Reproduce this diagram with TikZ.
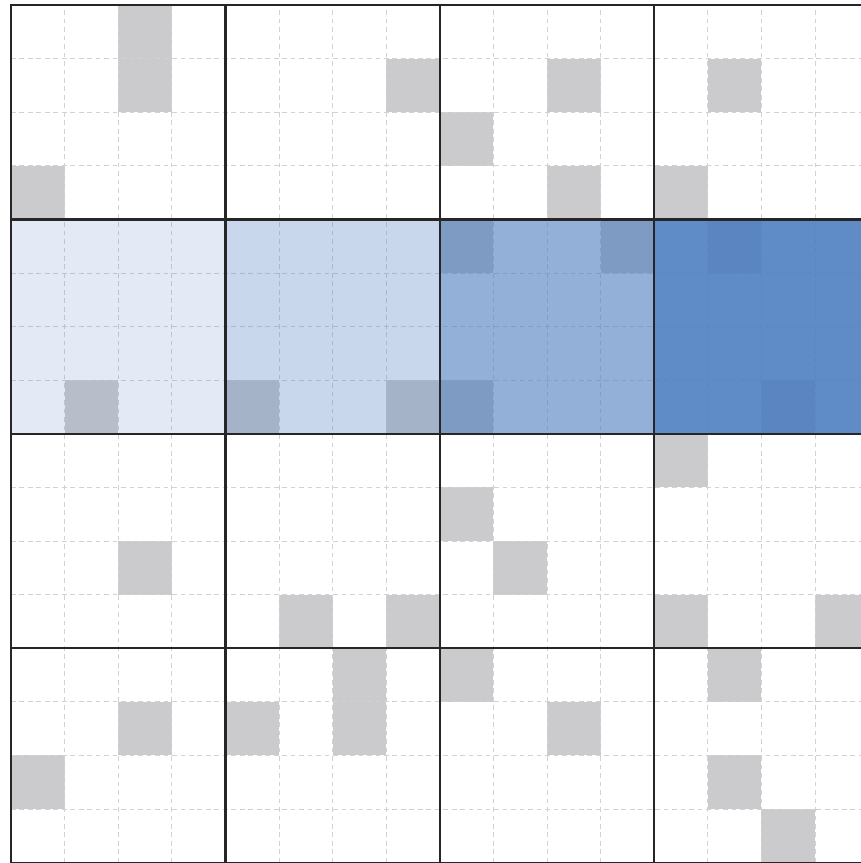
\documentclass[tikz,border=0pt]{standalone}
\definecolor{cellgray}{HTML}{CBCBCD}
\definecolor{blockblue}{HTML}{4F7FC0}
\begin{document}
\begin{tikzpicture}[x=1cm, y=-1cm,
	gridline/.style={gray!35, line width=0.5pt, dash pattern=on 2.5pt off 2pt},
	blockline/.style={black!85, line width=1.2pt}]
	\useasboundingbox (-0.205,-0.093) rectangle (15.855,16.007);
	% occupied cells (column/row, counted from the top left)
	\foreach \c/\r in {2/0,2/1,0/3,7/1,10/1,8/2,10/3,13/1,12/3,
		1/7,4/7,7/7,8/4,11/4,8/7,13/4,14/7,
		2/10,5/11,7/11,8/9,9/10,12/8,12/11,15/11,
		2/13,0/14,6/12,6/13,4/13,8/12,10/13,13/12,13/14,14/15}
		\fill[cellgray] (\c,\r) rectangle ++(1,1);
	\draw[gridline] (0,0) grid (16,16);
	% highlighted row of blocks
	\foreach \b/\o in {0/0.16,1/0.31,2/0.62,3/0.91}
		\fill[blockblue, fill opacity=\o] (4*\b,4) rectangle ++(4,4);
	\foreach \i in {4,8,12} {
		\draw[blockline] (\i,0) -- (\i,16);
		\draw[blockline] (0,\i) -- (16,\i);
	}
	\draw[blockline] (0,0) rectangle (16,16);
\end{tikzpicture}
\end{document}
